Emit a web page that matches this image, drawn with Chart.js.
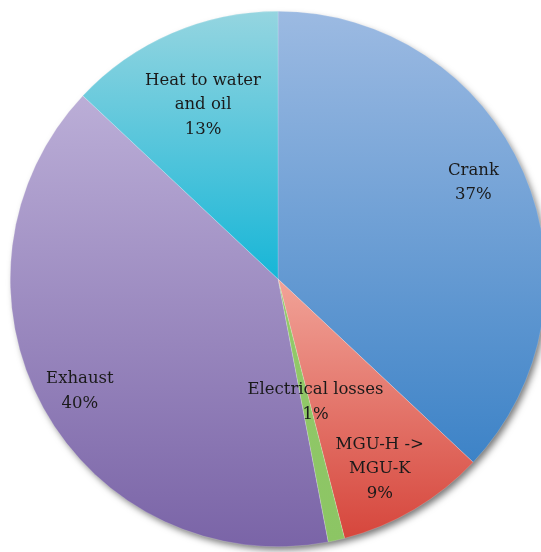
<!DOCTYPE html>
<html>
<head>
<meta charset="utf-8">
<script src="https://cdn.jsdelivr.net/npm/chart.js@4/dist/chart.umd.min.js"></script>
<style>
  html, body { margin: 0; padding: 0; background: #fff; overflow: hidden; }
  #wrap { width: 541px; height: 552px; overflow: hidden; }
</style>
</head>
<body>
<div id="wrap"><canvas id="pieChart" width="556" height="558"></canvas></div>
<script>
const categorias = ['Crank', 'MGU-H -> MGU-K', 'Electrical losses', 'Exhaust', 'Heat to water and oil'];
const valores = [37, 9, 1, 40, 13];
const rotulos = [['Crank', '37%'], ['MGU-H ->', 'MGU-K', '9%'], ['Electrical losses', '1%'], ['Exhaust', '40%'], ['Heat to water', 'and oil', '13%']];
const coresClaras = ['#9cbae2', '#f1a398', '#93c96a', '#bbaed7', '#95d5e0'];
const coresEscuras = ['#3d83c7', '#d6463c', '#8cc564', '#7a64a7', '#17b6d7'];

// posicao dos rotulos em fracao do raio (x, y) a partir do centro
const posRotulos = [[0.73, -0.36], [0.38, 0.71], [0.14, 0.46], [-0.74, 0.42], [-0.28, -0.65]];

function gradienteFatia(context) {
    const chart = context.chart;
    const area = chart.chartArea;
    const i = context.dataIndex;
    if (!area) return coresClaras[i];
    const cx = (area.left + area.right) / 2;
    const cy = (area.top + area.bottom) / 2;
    const r = Math.min(area.right - area.left, area.bottom - area.top) / 2;
    const total = valores.reduce((a, b) => a + b, 0);
    let acum = 0;
    for (let k = 0; k < i; k++) acum += valores[k];
    const ini = -Math.PI / 2 + acum / total * 2 * Math.PI;
    const fim = ini + valores[i] / total * 2 * Math.PI;
    let yMin = cy, yMax = cy;
    for (let s = 0; s <= 60; s++) {
        const t = ini + (fim - ini) * s / 60;
        const y = cy + r * Math.sin(t);
        yMin = Math.min(yMin, y);
        yMax = Math.max(yMax, y);
    }
    const g = chart.ctx.createLinearGradient(0, yMin, 0, yMax);
    g.addColorStop(0, coresClaras[i]);
    g.addColorStop(1, coresEscuras[i]);
    return g;
}

const sombra = {
    id: 'sombra',
    beforeDatasetsDraw(chart) {
        const arc = chart.getDatasetMeta(0).data[0];
        const ctx = chart.ctx;
        ctx.save();
        ctx.shadowColor = 'rgba(0,0,0,0.55)';
        ctx.shadowBlur = 7;
        ctx.shadowOffsetX = 3;
        ctx.shadowOffsetY = 4;
        ctx.beginPath();
        ctx.arc(arc.x, arc.y, arc.outerRadius - 1, 0, Math.PI * 2);
        ctx.fillStyle = '#ffffff';
        ctx.fill();
        ctx.restore();
    }
};

const rotulosPlugin = {
    id: 'rotulos',
    afterDatasetsDraw(chart) {
        const meta = chart.getDatasetMeta(0);
        const ctx = chart.ctx;
        ctx.save();
        ctx.font = '16.5px "DejaVu Serif"';
        ctx.fillStyle = '#1a1a1a';
        ctx.textAlign = 'center';
        ctx.textBaseline = 'middle';
        meta.data.forEach((arc, i) => {
            const x = arc.x + posRotulos[i][0] * arc.outerRadius;
            const y = arc.y + posRotulos[i][1] * arc.outerRadius;
            const linhas = rotulos[i];
            const alt = 24.5;
            linhas.forEach((txt, j) => {
                ctx.fillText(txt, x, y + (j - (linhas.length - 1) / 2) * alt);
            });
        });
        ctx.restore();
    }
};

new Chart(document.getElementById('pieChart'), {
    type: 'pie',
    data: {
        labels: categorias,
        datasets: [{
            data: valores,
            backgroundColor: gradienteFatia,
            borderWidth: 0.5,
            borderColor: 'rgba(255,255,255,0.35)'
        }]
    },
    options: {
        responsive: false,
        maintainAspectRatio: false,
        devicePixelRatio: 1,
        animation: false,
        layout: { padding: { left: 10, right: 10, top: 10, bottom: 10 } },
        plugins: {
            legend: { display: false },
            tooltip: { enabled: false }
        }
    },
    plugins: [sombra, rotulosPlugin]
});
</script>
</body>
</html>
